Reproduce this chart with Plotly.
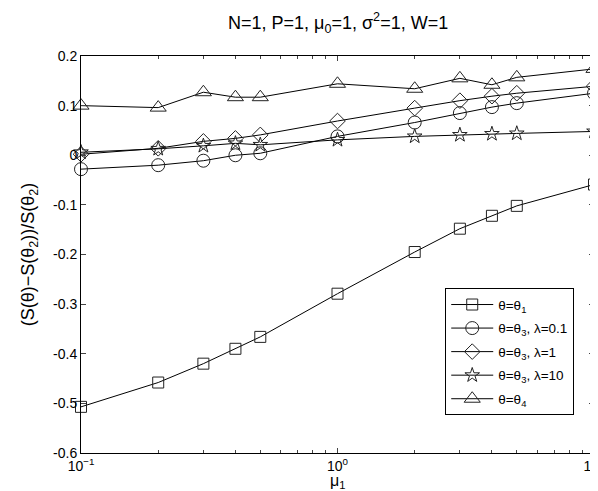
import plotly.graph_objects as go

mu1 = [0.1, 0.2, 0.3, 0.4, 0.5, 1, 2, 3, 4, 5, 10]
theta1 = [-0.507, -0.458, -0.420, -0.390, -0.366, -0.279, -0.195, -0.148, -0.122, -0.102, -0.059]
theta3_l01 = [-0.028, -0.020, -0.011, 0.000, 0.004, 0.038, 0.066, 0.085, 0.097, 0.105, 0.125]
theta3_l1 = [0.002, 0.014, 0.028, 0.034, 0.041, 0.069, 0.095, 0.110, 0.119, 0.125, 0.139]
theta3_l10 = [0.006, 0.013, 0.019, 0.024, 0.021, 0.031, 0.038, 0.041, 0.043, 0.044, 0.048]
theta4 = [0.100, 0.096, 0.127, 0.117, 0.117, 0.144, 0.134, 0.155, 0.142, 0.157, 0.174]

series = [
    ("θ=θ<sub>1</sub>", theta1, "square-open", 11),
    ("θ=θ<sub>3</sub>, λ=0.1", theta3_l01, "circle-open", 13),
    ("θ=θ<sub>3</sub>, λ=1", theta3_l1, "diamond-open", 12),
    ("θ=θ<sub>3</sub>, λ=10", theta3_l10, "star-open", 11),
    ("θ=θ<sub>4</sub>", theta4, "triangle-up-open", 14),
]

fig = go.Figure()
for i, (name, ys, sym, sz) in enumerate(series):
    fig.add_trace(go.Scatter(
        x=mu1, y=ys, name=name, mode="lines+markers", legendgroup=str(i),
        line=dict(color="black", width=1),
        marker=dict(symbol=sym, size=sz, color="#222222", line=dict(width=1)),
        cliponaxis=False,
    ))

font = "Liberation Sans, Arial, Helvetica, sans-serif"
fig.update_layout(
    width=598, height=491,
    margin=dict(l=73, r=12, t=48, b=46, autoexpand=False),
    paper_bgcolor="white", plot_bgcolor="white",
    font=dict(family=font, size=14, color="black"),
    title=dict(text="N=1, P=1, μ<sub>0</sub>=1, σ<sup>2</sup>=1, W=1",
               x=0.552, xanchor="center", y=0.97, yanchor="middle",
               font=dict(size=18)),
    showlegend=True,
    legend=dict(x=0.71, xanchor="left", y=0.415, yanchor="top",
                bordercolor="black", borderwidth=1, bgcolor="white",
                font=dict(size=13.5), itemwidth=42, tracegroupgap=3),
    annotations=[
        dict(text="μ<sub>1</sub>", xref="paper", yref="paper", x=0.5, y=-0.044,
             xanchor="center", yanchor="top", showarrow=False, font=dict(size=16)),
        dict(text="(S(θ)−S(θ<sub>2</sub>))/S(θ<sub>2</sub>)", xref="paper", yref="paper",
             x=-0.1, y=0.5, xanchor="center", yanchor="middle", textangle=-90,
             showarrow=False, font=dict(size=18)),
    ],
)
fig.update_xaxes(
    type="log", range=[-1, 1], automargin=False,
    tickvals=[0.1, 1, 10],
    ticktext=["10<sup>−1</sup>", "10<sup>0</sup>", "10<sup>1</sup>"],
    ticks="inside", ticklen=5, showgrid=False, zeroline=False,
    showline=True, linecolor="black", linewidth=1, mirror="ticks",
    minor=dict(ticks="inside", ticklen=3, tickvals=[0.2,0.3,0.4,0.5,0.6,0.7,0.8,0.9,2,3,4,5,6,7,8,9], showgrid=False),
    tickfont=dict(size=14),
)
fig.update_yaxes(
    range=[-0.6, 0.2], automargin=False,
    tickvals=[-0.6, -0.5, -0.4, -0.3, -0.2, -0.1, 0, 0.1, 0.2],
    ticktext=["-0.6", "-0.5", "-0.4", "-0.3", "-0.2", "-0.1", "0", "0.1", "0.2"],
    ticks="inside", ticklen=5, showgrid=False, zeroline=False,
    showline=True, linecolor="black", linewidth=1, mirror="ticks",
    tickfont=dict(size=14),
)

fig.write_html("out.html")
